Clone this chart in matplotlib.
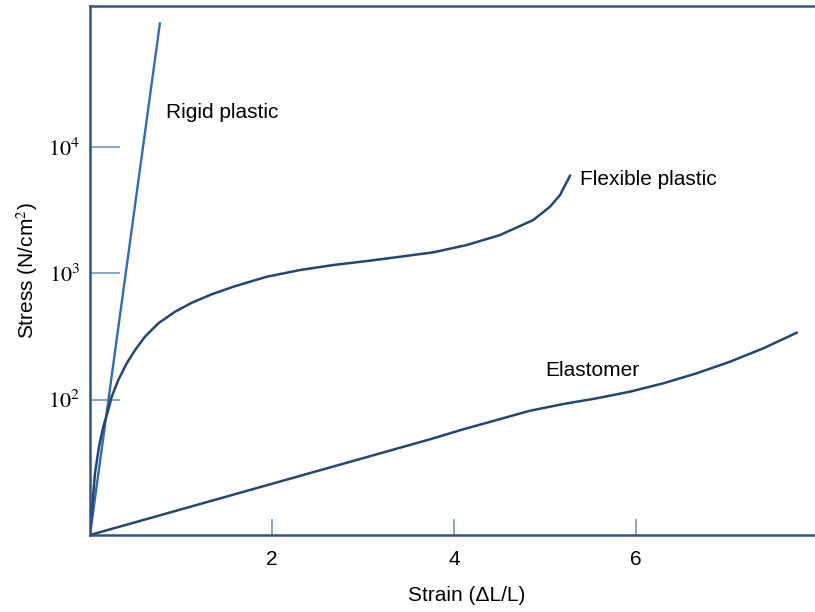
import numpy as np
import matplotlib
matplotlib.use("Agg")
import matplotlib.pyplot as plt

plt.rcParams["font.family"] = ["Liberation Sans", "DejaVu Sans"]
plt.rcParams["mathtext.fontset"] = "stix"

# curves (strain, stress in N/cm^2)
rigid_x = [0.0, 0.77]
rigid_y = [8.46, 97000]

flex_x = [0.0, 0.025, 0.055, 0.099, 0.146, 0.201, 0.238, 0.311, 0.403, 0.495,
          0.604, 0.751, 0.934, 1.118, 1.337, 1.575, 1.942, 2.308, 2.674, 3.041,
          3.407, 3.773, 4.14, 4.505, 4.871, 5.055, 5.165, 5.275]
flex_y = [8.46, 14.2, 26.0, 42.3, 60.9, 82.6, 105, 142.6, 193, 246,
          314, 401, 495, 583, 680, 781, 937, 1059, 1160, 1247,
          1349, 1462, 1670, 2003, 2634, 3356, 4153, 5903]

elast_x = [0.0, 3.736, 4.102, 4.469, 4.835, 5.201, 5.568, 5.934, 6.3, 6.667,
           7.033, 7.399, 7.766]
elast_y = [8.46, 48.4, 58.1, 68.8, 81.5, 92.1, 102.2, 115.3, 134.3, 161.2,
           199.1, 254.2, 337.7]

x_ticks = [2, 4, 6]
y_ticks = [1e2, 1e3, 1e4]
y_ticklabels = [r"$10^{2}$", r"$10^{3}$", r"$10^{4}$"]

navy = "#24466f"
spine_c = "#2f5485"
tick_c = "#7396c6"

fig = plt.figure(figsize=(8.15, 6.12), dpi=100)
ax = fig.add_axes([0.1104, 0.1258, 0.8896, 0.8649])

ax.plot(rigid_x, rigid_y, color="#2e6cb4", lw=1.7, solid_capstyle="butt")
ax.plot(flex_x, flex_y, color=navy, lw=1.8)
ax.plot(elast_x, elast_y, color=navy, lw=1.8)

ax.set_yscale("log")
ax.set_xlim(0, 7.967)
ax.set_ylim(8.46, 1.31e5)

ax.set_xticks(x_ticks)
ax.set_xticklabels([str(t) for t in x_ticks])
ax.set_yticks(y_ticks)
ax.set_yticklabels(y_ticklabels)
ax.yaxis.set_minor_locator(matplotlib.ticker.NullLocator())

ax.tick_params(axis="x", direction="in", length=11.5, width=1.2, color=tick_c,
               labelsize=15, pad=11)
ax.tick_params(axis="y", direction="in", length=21.6, width=1.2, color=tick_c,
               labelsize=16, pad=7)

for s in ["left", "top", "bottom"]:
    ax.spines[s].set_color(spine_c)
    ax.spines[s].set_linewidth(1.8)
ax.spines["right"].set_visible(False)

ax.set_xlabel("Strain (ΔL/L)", fontsize=15)
ax.set_ylabel("Stress (N/cm$^2$)", fontsize=15)
ax.xaxis.set_label_coords(0.52, -0.096)
ax.yaxis.set_label_coords(-0.069, 0.5)

ax.text(0.835, 18800, "Rigid plastic", fontsize=15, va="center")
ax.text(5.385, 5550, "Flexible plastic", fontsize=15, va="center")
ax.text(5.0, 171, "Elastomer", fontsize=15, va="center")

fig.savefig("out.png", dpi=100)
